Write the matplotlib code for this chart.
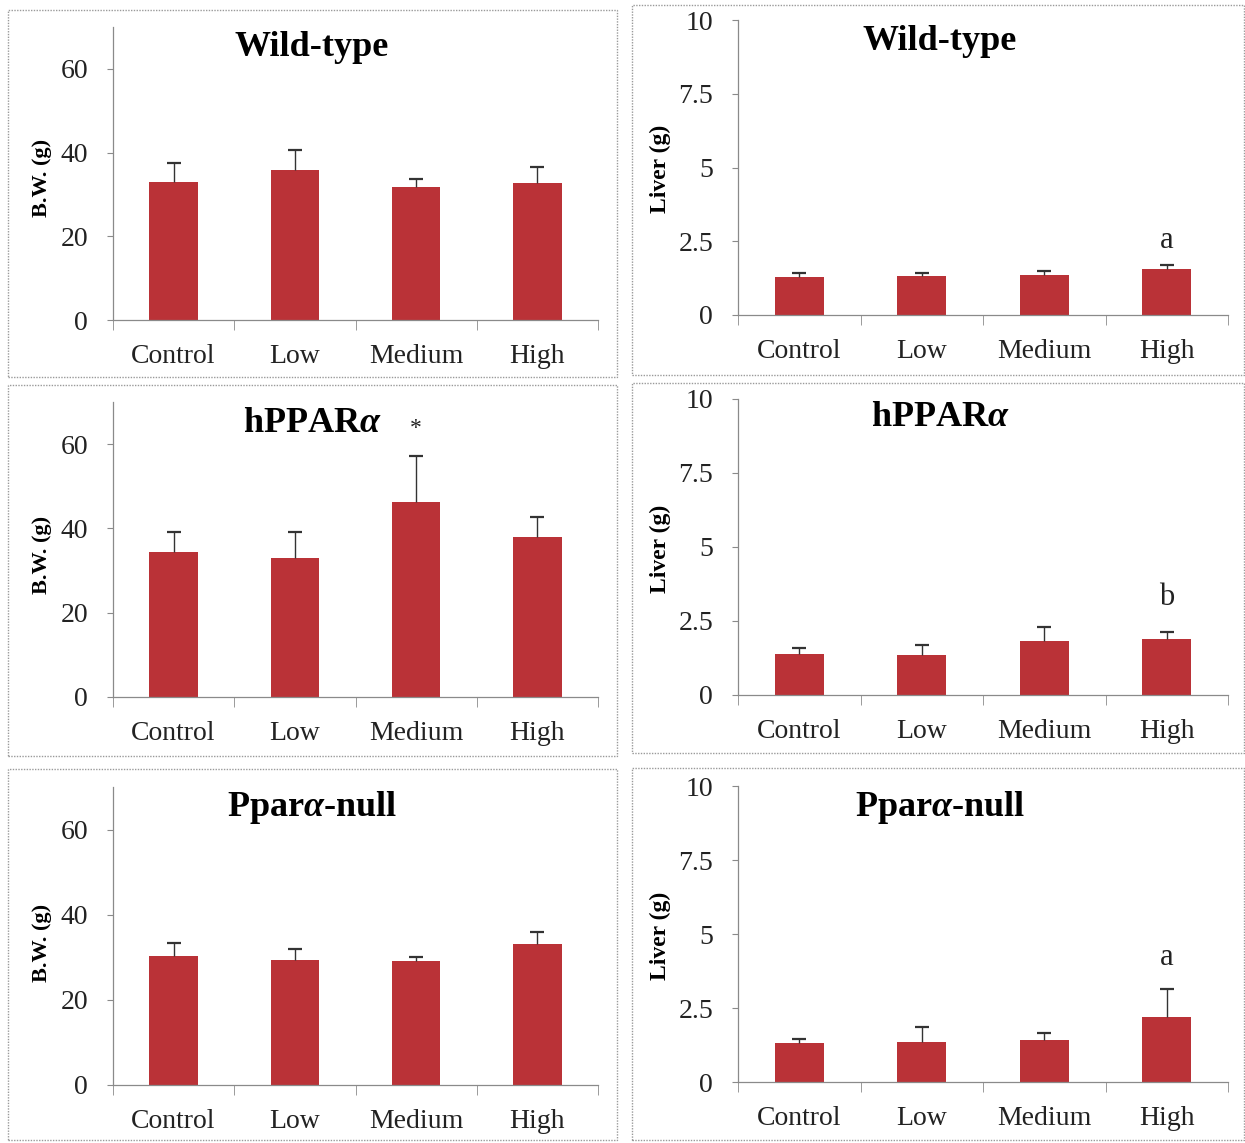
import matplotlib.pyplot as plt
from matplotlib.patches import Rectangle

plt.rcParams['font.family'] = ['Liberation Serif', 'DejaVu Serif']
plt.rcParams['mathtext.fontset'] = 'custom'
plt.rcParams['mathtext.rm'] = 'Liberation Serif:bold'
plt.rcParams['mathtext.it'] = 'Liberation Serif:italic:bold'
plt.rcParams['mathtext.bf'] = 'Liberation Serif:bold'

doses = ["Control", "Low", "Medium", "High"]
strains = ["Wild-type", "hPPAR$\\alpha$", "Ppar$\\alpha$-null"]

# body weight (g), mean and upper error
bw_mean = [
    [33.0, 35.8, 31.8, 32.7],
    [34.4, 33.0, 46.3, 38.0],
    [30.4, 29.4, 29.2, 33.2],
]
bw_err = [
    [4.6, 4.8, 1.9, 3.9],
    [4.7, 6.1, 10.9, 4.7],
    [3.0, 2.6, 0.9, 2.8],
]
# liver weight (g)
liver_mean = [
    [1.29, 1.32, 1.36, 1.56],
    [1.39, 1.35, 1.82, 1.89],
    [1.32, 1.35, 1.42, 2.20],
]
liver_err = [
    [0.13, 0.10, 0.13, 0.13],
    [0.20, 0.34, 0.48, 0.24],
    [0.13, 0.51, 0.24, 0.94],
]
# significance marks: (text, bar index, height above error bar)
bw_marks = [None, ("*", 2, 6.6), None]
liver_marks = [("a", 3, 0.85), ("b", 3, 1.18), ("a", 3, 1.05)]

W, H = 1245, 1143
BAR = '#BA3237'
GRID = '#8a8a8a'

fig = plt.figure(figsize=(W / 100, H / 100), dpi=100)


def px_rect(x0, y0, x1, y1):
    return [x0 / W, 1 - y1 / H, (x1 - x0) / W, (y1 - y0) / H]


def draw_box(x0, y0, x1, y1):
    fig.patches.append(Rectangle((x0 / W, 1 - y1 / H), (x1 - x0) / W, (y1 - y0) / H,
                                 transform=fig.transFigure, fill=False,
                                 edgecolor='#9a9a9a', linewidth=1.0, linestyle=(0, (1, 1))))


def panel(rect, means, errs, ymax, yticks, yticklabels, title, title_xy, mark):
    ax = fig.add_axes(px_rect(*rect))
    x = list(range(len(doses)))
    ax.bar(x, means, width=0.4, color=BAR, zorder=2)
    _, caps, _ = ax.errorbar(x, means, yerr=[[0] * len(means), errs], fmt='none',
                             ecolor='#333333', elinewidth=1.0, capsize=5,
                             capthick=1.6, zorder=3)
    caps[0].set_visible(False)  # upper error only
    ax.set_xlim(-0.5, 3.5)
    ax.set_ylim(0, ymax)
    ax.set_yticks(yticks)
    ax.set_yticklabels(yticklabels, fontsize=20, color='#222222')
    ax.set_xticks(x)
    ax.set_xticklabels(doses, fontsize=20, color='#222222')
    ax.set_xticks([-0.5, 0.5, 1.5, 2.5, 3.5], minor=True)
    ax.tick_params(axis='x', which='major', length=0, pad=17)
    ax.tick_params(axis='x', which='minor', length=7, color=GRID, direction='out')
    ax.tick_params(axis='y', length=4, color=GRID, pad=14)
    for s in ['top', 'right']:
        ax.spines[s].set_visible(False)
    for s in ['left', 'bottom']:
        ax.spines[s].set_color(GRID)
        ax.spines[s].set_linewidth(0.9)
    fig.text(title_xy[0] / W, 1 - title_xy[1] / H, title, fontsize=26,
             fontweight='bold', ha='center', va='center')
    if mark:
        txt, i, off = mark
        size = 17 if txt == "*" else 22
        ax.text(i, means[i] + errs[i] + off, txt, ha='center', va='center',
                fontsize=size, color='#222222')
    return ax


# left column: body weight
left_rows = [(27, 320, 47), (402, 697, 423), (787, 1085, 807)]
left_boxes = [(8, 10, 617, 377), (8, 385, 617, 756), (8, 769, 617, 1140)]
for r, (top, bot, ty) in enumerate(left_rows):
    draw_box(*left_boxes[r])
    panel((113, top, 598, bot), bw_mean[r], bw_err[r], 70, [0, 20, 40, 60],
          ["0", "20", "40", "60"], strains[r], (312, ty), bw_marks[r])
    fig.text(42 / W, 1 - (bot - 142) / H, "B.W. (g)", rotation=90, fontsize=16,
             fontweight='bold', ha='center', va='center')

# right column: liver weight
right_rows = [(20, 315, 41), (399, 695, 418), (786, 1082, 807)]
right_boxes = [(632, 5, 1244, 375), (632, 383, 1244, 753), (632, 768, 1244, 1140)]
for r, (top, bot, ty) in enumerate(right_rows):
    draw_box(*right_boxes[r])
    panel((738, top, 1228, bot), liver_mean[r], liver_err[r], 10, [0, 2.5, 5, 7.5, 10],
          ["0", "2.5", "5", "7.5", "10"], strains[r], (940, ty), liver_marks[r])
    fig.text(660 / W, 1 - (bot - 146) / H, "Liver (g)", rotation=90, fontsize=17,
             fontweight='bold', ha='center', va='center')

fig.savefig("out.png", dpi=100)
